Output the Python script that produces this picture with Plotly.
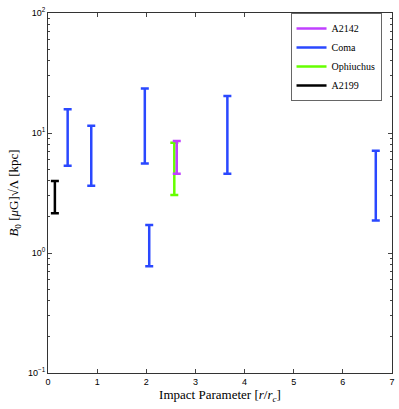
import plotly.graph_objects as go

# Data (impact parameter r/rc, lower and upper bounds of B0*sqrt(Lambda))
coma_x = [0.40, 0.88, 1.97, 2.06, 3.65, 6.67]
coma_lo = [5.33, 3.64, 5.58, 0.776, 4.58, 1.87]
coma_hi = [15.8, 11.5, 23.5, 1.71, 20.3, 7.11]

a2142_x = [2.62]
a2142_lo = [4.58]
a2142_hi = [8.56]

oph_x = [2.57]
oph_lo = [3.04]
oph_hi = [8.29]

a2199_x = [0.14]
a2199_lo = [2.14]
a2199_hi = [3.98]

series = [
    ("A2142", a2142_x, a2142_lo, a2142_hi, "#c040ff"),
    ("Coma", coma_x, coma_lo, coma_hi, "#2a48ff"),
    ("Ophiuchus", oph_x, oph_lo, oph_hi, "#66ff00"),
    ("A2199", a2199_x, a2199_lo, a2199_hi, "#000000"),
]
draw_order = [1, 2, 0, 3]

x_ticks = [0, 1, 2, 3, 4, 5, 6, 7]
y_ticks = [0.1, 1, 10, 100]
y_ticktext = ["10<sup>\u22121</sup>", "10<sup>0</sup>", "10<sup>1</sup>", "10<sup>2</sup>"]
y_minor = [m * d for d in [0.1, 1, 10] for m in range(2, 10)]

fig = go.Figure()
for i in draw_order:
    name, xs, lo, hi, col = series[i]
    fig.add_trace(go.Scatter(
        x=xs, y=lo, mode="markers", marker=dict(size=0.1, color=col, opacity=0),
        error_y=dict(type="data", symmetric=False,
                     array=[h - l for h, l in zip(hi, lo)],
                     arrayminus=[0] * len(lo), color=col, thickness=2.5, width=4),
        showlegend=False, hoverinfo="skip"))
for name, xs, lo, hi, col in series:
    fig.add_trace(go.Scatter(x=[None], y=[None], mode="lines", name=name,
                             line=dict(color=col, width=2.5)))

serif = "Liberation Serif"
sans = "Liberation Sans"
fig.update_layout(
    width=399, height=409,
    margin=dict(l=48, r=7, t=13, b=36),
    paper_bgcolor="white", plot_bgcolor="white",
    font=dict(family=sans, size=9, color="black"),
    showlegend=True,
    legend=dict(x=0.705, y=1.0, xanchor="left", yanchor="top",
                bgcolor="white", bordercolor="#666666", borderwidth=1,
                font=dict(family=serif, size=10), tracegroupgap=0),
    xaxis=dict(range=[0, 7], tickvals=x_ticks, ticks="inside", ticklen=4,
               showgrid=False, zeroline=False, showline=True, linecolor="#333",
               linewidth=1, mirror="ticks", tickfont=dict(family=sans, size=9),
               automargin=False,
               title=dict(text="Impact Parameter [<i>r</i>/<i>r<sub>c</sub></i>]",
                          font=dict(family=serif, size=13), standoff=2)),
    yaxis=dict(type="log", range=[-1, 2], tickvals=y_ticks, ticktext=y_ticktext,
               ticks="inside", ticklen=4, showgrid=False, zeroline=False,
               showline=True, linecolor="#333", linewidth=1, mirror="ticks",
               tickfont=dict(family=sans, size=9), automargin=False,
               minor=dict(tickvals=y_minor, ticks="inside", ticklen=2, showgrid=False),
               title=dict(text="<i>B</i><sub>0</sub> [<i>\u03bc</i>G]\u221a\u039b [kpc]",
                          font=dict(family=serif, size=13), standoff=6)),
)

fig.write_html("out.html", config={"displayModeBar": False},
               post_script="document.body.style.margin='0px';document.body.style.overflow='hidden';")
